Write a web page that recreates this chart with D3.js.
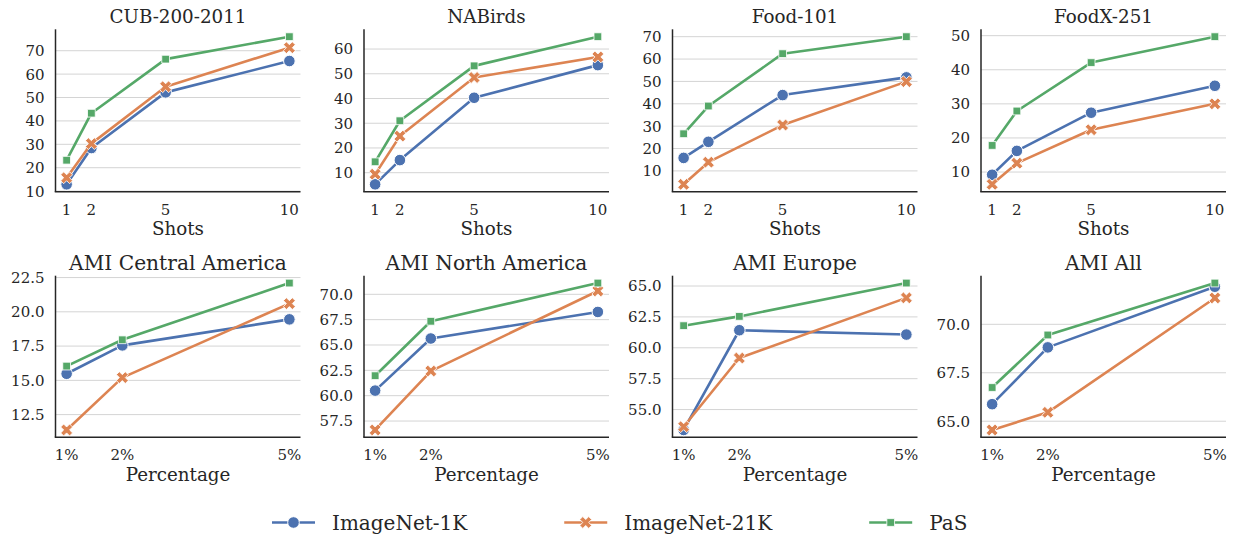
<!DOCTYPE html>
<html>
<head>
<meta charset="utf-8">
<script src="https://cdn.jsdelivr.net/npm/d3@7"></script>
<style>
  body { margin: 0; background: #fff; }
  svg { display: block; font-family: "DejaVu Serif", serif; }
</style>
</head>
<body>
<svg id="chart" width="1239" height="539"></svg>
<script>
// Few-shot results
const seriesNames = ["ImageNet-1K", "ImageNet-21K", "PaS"];
const seriesColors = ["#4C72B0", "#DD8452", "#55A868"];
const seriesMarkers = ["circle", "x", "square"];

const shots = [1, 2, 5, 10];
const percents = [1, 2, 5];

const topTitles = ["CUB-200-2011", "NABirds", "Food-101", "FoodX-251"];
const bottomTitles = ["AMI Central America", "AMI North America", "AMI Europe", "AMI All"];

// one row per series: ImageNet-1K, ImageNet-21K, PaS
const cubValues = [[12.9, 28.4, 52.2, 65.6], [15.7, 30.3, 54.6, 71.3], [23.2, 43.3, 66.4, 76.0]];
const nabirdsValues = [[5.3, 15.1, 40.3, 53.5], [9.4, 24.8, 48.5, 56.8], [14.4, 31.0, 53.2, 65.0]];
const food101Values = [[15.8, 23.0, 43.9, 51.8], [4.0, 13.9, 30.5, 49.9], [26.6, 39.0, 62.4, 70.0]];
const foodxValues = [[9.2, 16.2, 27.4, 35.3], [6.4, 12.6, 22.4, 30.0], [17.8, 27.9, 42.1, 49.7]];
const amiCentralValues = [[15.48, 17.55, 19.45], [11.38, 15.2, 20.6], [16.04, 17.96, 22.1]];
const amiNorthValues = [[60.5, 65.64, 68.26], [56.62, 62.43, 70.33], [61.97, 67.34, 71.11]];
const amiEuropeValues = [[53.35, 61.42, 61.07], [53.61, 59.17, 64.04], [61.79, 62.54, 65.24]];
const amiAllValues = [[65.88, 68.81, 71.94], [64.55, 65.46, 71.36], [66.74, 69.45, 72.13]];

// y tick values for each panel
const cubTicks = [10, 20, 30, 40, 50, 60, 70];
const nabirdsTicks = [10, 20, 30, 40, 50, 60];
const food101Ticks = [10, 20, 30, 40, 50, 60, 70];
const foodxTicks = [10, 20, 30, 40, 50];
const amiCentralTicks = [12.5, 15, 17.5, 20, 22.5];
const amiNorthTicks = [57.5, 60, 62.5, 65, 67.5, 70];
const amiEuropeTicks = [55, 57.5, 60, 62.5, 65];
const amiAllTicks = [65, 67.5, 70];

const topValues = [cubValues, nabirdsValues, food101Values, foodxValues];
const topTicks = [cubTicks, nabirdsTicks, food101Ticks, foodxTicks];
const bottomValues = [amiCentralValues, amiNorthValues, amiEuropeValues, amiAllValues];
const bottomTicks = [amiCentralTicks, amiNorthTicks, amiEuropeTicks, amiAllTicks];

const svg = d3.select("#chart");

const panelW = 245;
const panelStep = 308.5;
const firstLeft = 55.5;
const rows = [
    { top: 29.3, bottom: 191.7, titleSize: 18.3 },
    { top: 275.7, bottom: 437.3, titleSize: 20.2 }
];

function drawMarker(g, type, x, y, color) {
    if (type === "circle") {
        g.append("circle")
            .attr("cx", x).attr("cy", y).attr("r", 5.8)
            .attr("fill", color).attr("stroke", "#fff").attr("stroke-width", 1);
    } else if (type === "square") {
        g.append("path")
            .attr("d", d3.symbol(d3.symbolSquare, 60)())
            .attr("transform", `translate(${x},${y})`)
            .attr("fill", color).attr("stroke", "#fff").attr("stroke-width", 0.8);
    } else {
        g.append("path")
            .attr("d", d3.symbol(d3.symbolCross, 88)())
            .attr("transform", `translate(${x},${y}) rotate(45)`)
            .attr("fill", color).attr("stroke", "#fff").attr("stroke-width", 0.8);
    }
}

function drawPanel(left, row, title, xs, xDomain, xLabels, xTitle, values, ticks, tickFmt) {
    const g = svg.append("g");
    const right = left + panelW;

    const all = values.flat();
    const lo = d3.min(all), hi = d3.max(all);
    const pad = (hi - lo) * 0.05;
    const y = d3.scaleLinear().domain([lo - pad, hi + pad]).range([row.bottom, row.top]);
    const x = d3.scaleLinear().domain(xDomain).range([left, right]);

    // grid
    g.selectAll(".grid").data(ticks).enter().append("line")
        .attr("x1", left).attr("x2", right)
        .attr("y1", d => y(d)).attr("y2", d => y(d))
        .attr("stroke", "#d4d4d4").attr("stroke-width", 1);

    // y tick labels
    g.selectAll(".ytick").data(ticks).enter().append("text")
        .attr("x", left - 11)
        .attr("y", d => y(d))
        .attr("dy", "0.36em")
        .attr("text-anchor", "end")
        .attr("font-size", "15px")
        .attr("fill", "#262626")
        .text(tickFmt);

    // x tick labels
    g.selectAll(".xtick").data(xs).enter().append("text")
        .attr("x", d => x(d))
        .attr("y", row.bottom + 23)
        .attr("text-anchor", "middle")
        .attr("font-size", "15px")
        .attr("fill", "#262626")
        .text((d, i) => xLabels[i]);

    // spines
    g.append("line").attr("x1", left).attr("x2", left).attr("y1", row.top).attr("y2", row.bottom)
        .attr("stroke", "#262626").attr("stroke-width", 1.5);
    g.append("line").attr("x1", left - 0.75).attr("x2", right).attr("y1", row.bottom).attr("y2", row.bottom)
        .attr("stroke", "#262626").attr("stroke-width", 1.5);

    // series
    const line = d3.line().x((d, i) => x(xs[i])).y(d => y(d));
    values.forEach((vals, s) => {
        g.append("path")
            .attr("d", line(vals))
            .attr("fill", "none")
            .attr("stroke", seriesColors[s])
            .attr("stroke-width", 2.6)
            .attr("stroke-linejoin", "round")
            .attr("stroke-linecap", "round");
        vals.forEach((v, i) => drawMarker(g, seriesMarkers[s], x(xs[i]), y(v), seriesColors[s]));
    });

    // title and axis label
    g.append("text")
        .attr("x", (left + right) / 2).attr("y", row.top - 6)
        .attr("text-anchor", "middle").attr("font-size", row.titleSize + "px").attr("fill", "#262626")
        .text(title);
    g.append("text")
        .attr("x", (left + right) / 2).attr("y", row.bottom + 43.5)
        .attr("text-anchor", "middle").attr("font-size", "18.3px").attr("fill", "#262626")
        .text(xTitle);
}

topTitles.forEach((t, i) => {
    drawPanel(firstLeft + i * panelStep, rows[0], t, shots, [0.55, 10.45],
        shots.map(String), "Shots", topValues[i], topTicks[i], d => d3.format("d")(d));
});
bottomTitles.forEach((t, i) => {
    drawPanel(firstLeft + i * panelStep, rows[1], t, percents, [0.8, 5.2],
        percents.map(p => p + "%"), "Percentage", bottomValues[i], bottomTicks[i], d => d3.format(".1f")(d));
});

// legend
const legend = svg.append("g");
let lx = 272;
const ly = 522.5;
seriesNames.forEach((name, s) => {
    legend.append("line")
        .attr("x1", lx).attr("x2", lx + 43).attr("y1", ly).attr("y2", ly)
        .attr("stroke", seriesColors[s]).attr("stroke-width", 2.6);
    drawMarker(legend, seriesMarkers[s], lx + 21.5, ly, seriesColors[s]);
    const txt = legend.append("text")
        .attr("x", lx + 60).attr("y", ly).attr("dy", "0.36em")
        .attr("font-size", "20px").attr("fill", "#262626")
        .text(name);
    lx = lx + 60 + txt.node().getComputedTextLength() + 97;
});
</script>
</body>
</html>
